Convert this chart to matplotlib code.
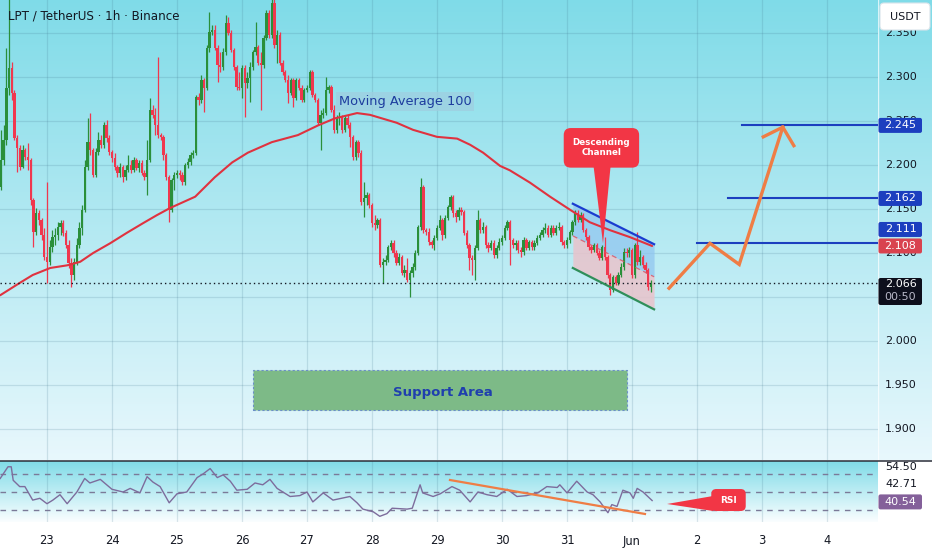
import numpy as np
import matplotlib
matplotlib.use("Agg")
import matplotlib.pyplot as plt
from matplotlib.patches import FancyBboxPatch, Polygon, Rectangle
from matplotlib.lines import Line2D

# %% data (1h candles, x in "day of May", Jun 1 = 32)
t_first = 22 + 7 / 24        # first visible candle, May 22 07:00
first_open = 2.175

closes = [
    2.206, 2.228, 2.287, 2.310, 2.282, 2.231, 2.219, 2.198, 2.217, 2.209,
    2.206, 2.160, 2.124, 2.145, 2.137, 2.120, 2.095, 2.090, 2.107, 2.118,
    2.120, 2.130, 2.134, 2.123, 2.109, 2.089, 2.075, 2.090, 2.109, 2.128,
    2.149, 2.198, 2.226, 2.217, 2.189, 2.215, 2.228, 2.223, 2.245, 2.231,
    2.215, 2.208, 2.198, 2.191, 2.198, 2.186, 2.194, 2.200, 2.194, 2.206,
    2.197, 2.202, 2.191, 2.186, 2.206, 2.262, 2.257, 2.245, 2.234, 2.232,
    2.211, 2.186, 2.149, 2.183, 2.189, 2.191, 2.189, 2.181, 2.200, 2.203,
    2.211, 2.214, 2.277, 2.274, 2.297, 2.287, 2.333, 2.351, 2.353, 2.333,
    2.314, 2.311, 2.328, 2.361, 2.350, 2.331, 2.311, 2.289, 2.287, 2.310,
    2.293, 2.299, 2.311, 2.328, 2.334, 2.316, 2.314, 2.344, 2.373, 2.348,
    2.384, 2.336, 2.348, 2.316, 2.306, 2.297, 2.282, 2.297, 2.276, 2.297,
    2.287, 2.274, 2.285, 2.287, 2.306, 2.280, 2.274, 2.248, 2.257, 2.259,
    2.285, 2.289, 2.262, 2.240, 2.253, 2.255, 2.240, 2.253, 2.245, 2.232,
    2.209, 2.226, 2.214, 2.158, 2.162, 2.166, 2.155, 2.134, 2.132, 2.137,
    2.086, 2.090, 2.092, 2.107, 2.111, 2.100, 2.089, 2.095, 2.077, 2.081,
    2.069, 2.077, 2.084, 2.100, 2.130, 2.175, 2.126, 2.124, 2.112, 2.109,
    2.117, 2.128, 2.137, 2.120, 2.140, 2.152, 2.164, 2.145, 2.141, 2.149,
    2.147, 2.123, 2.109, 2.094, 2.092, 2.106, 2.137, 2.126, 2.130, 2.109,
    2.106, 2.111, 2.098, 2.106, 2.112, 2.117, 2.128, 2.135, 2.115, 2.109,
    2.111, 2.103, 2.101, 2.115, 2.106, 2.112, 2.107, 2.111, 2.117, 2.120,
    2.126, 2.128, 2.120, 2.128, 2.123, 2.128, 2.130, 2.112, 2.109, 2.115,
    2.124, 2.135, 2.145, 2.137, 2.143, 2.126, 2.118, 2.107, 2.103, 2.109,
    2.100, 2.094, 2.107, 2.095, 2.075, 2.058, 2.073, 2.066, 2.075, 2.084,
    2.101, 2.100, 2.103, 2.075, 2.109, 2.090, 2.095, 2.086, 2.081, 2.061,
    2.066,
]
highs = [
    2.240, 2.245, 2.333, 2.390, 2.317, 2.285, 2.234, 2.223, 2.223, 2.219,
    2.225, 2.208, 2.162, 2.151, 2.149, 2.140, 2.128, 2.181, 2.115, 2.126,
    2.128, 2.135, 2.137, 2.137, 2.126, 2.115, 2.094, 2.094, 2.117, 2.135,
    2.155, 2.206, 2.253, 2.259, 2.219, 2.219, 2.237, 2.234, 2.249, 2.251,
    2.234, 2.217, 2.214, 2.200, 2.202, 2.200, 2.200, 2.211, 2.206, 2.209,
    2.208, 2.206, 2.206, 2.194, 2.228, 2.276, 2.268, 2.265, 2.323, 2.236,
    2.234, 2.214, 2.189, 2.185, 2.192, 2.194, 2.194, 2.192, 2.202, 2.208,
    2.215, 2.217, 2.280, 2.282, 2.302, 2.299, 2.336, 2.374, 2.359, 2.359,
    2.336, 2.328, 2.333, 2.370, 2.368, 2.353, 2.333, 2.314, 2.306, 2.314,
    2.314, 2.306, 2.317, 2.331, 2.362, 2.336, 2.328, 2.348, 2.376, 2.376,
    2.390, 2.399, 2.353, 2.351, 2.319, 2.308, 2.302, 2.299, 2.299, 2.299,
    2.299, 2.291, 2.287, 2.291, 2.308, 2.308, 2.282, 2.276, 2.262, 2.265,
    2.300, 2.291, 2.291, 2.268, 2.257, 2.260, 2.257, 2.257, 2.257, 2.249,
    2.234, 2.228, 2.228, 2.217, 2.181, 2.169, 2.168, 2.157, 2.143, 2.140,
    2.140, 2.094, 2.098, 2.109, 2.115, 2.115, 2.103, 2.100, 2.098, 2.086,
    2.094, 2.081, 2.089, 2.103, 2.132, 2.185, 2.177, 2.128, 2.128, 2.115,
    2.120, 2.132, 2.143, 2.140, 2.143, 2.155, 2.166, 2.166, 2.149, 2.152,
    2.152, 2.149, 2.126, 2.111, 2.098, 2.109, 2.149, 2.140, 2.135, 2.132,
    2.112, 2.115, 2.115, 2.109, 2.117, 2.120, 2.132, 2.137, 2.137, 2.117,
    2.115, 2.115, 2.107, 2.118, 2.117, 2.115, 2.115, 2.115, 2.120, 2.124,
    2.130, 2.134, 2.132, 2.132, 2.132, 2.132, 2.135, 2.132, 2.115, 2.118,
    2.126, 2.137, 2.149, 2.149, 2.147, 2.145, 2.128, 2.120, 2.109, 2.111,
    2.111, 2.103, 2.109, 2.118, 2.098, 2.077, 2.075, 2.075, 2.078, 2.089,
    2.106, 2.106, 2.107, 2.106, 2.111, 2.124, 2.103, 2.098, 2.090, 2.083,
    2.069,
]
lows = [
    2.172, 2.200, 2.223, 2.280, 2.274, 2.228, 2.192, 2.194, 2.197, 2.206,
    2.194, 2.155, 2.107, 2.120, 2.132, 2.115, 2.092, 2.066, 2.086, 2.101,
    2.109, 2.115, 2.120, 2.119, 2.106, 2.083, 2.061, 2.069, 2.086, 2.106,
    2.120, 2.147, 2.194, 2.211, 2.186, 2.186, 2.211, 2.219, 2.219, 2.226,
    2.211, 2.203, 2.194, 2.186, 2.186, 2.181, 2.183, 2.192, 2.191, 2.192,
    2.194, 2.192, 2.189, 2.183, 2.166, 2.203, 2.253, 2.234, 2.231, 2.228,
    2.206, 2.183, 2.135, 2.147, 2.172, 2.185, 2.183, 2.177, 2.177, 2.197,
    2.200, 2.208, 2.211, 2.268, 2.270, 2.260, 2.285, 2.328, 2.348, 2.331,
    2.294, 2.306, 2.308, 2.325, 2.348, 2.328, 2.308, 2.285, 2.285, 2.276,
    2.255, 2.287, 2.272, 2.308, 2.325, 2.314, 2.262, 2.310, 2.342, 2.344,
    2.344, 2.333, 2.316, 2.314, 2.302, 2.294, 2.270, 2.280, 2.266, 2.274,
    2.285, 2.272, 2.272, 2.283, 2.285, 2.277, 2.272, 2.245, 2.217, 2.253,
    2.257, 2.282, 2.260, 2.236, 2.236, 2.245, 2.236, 2.237, 2.242, 2.220,
    2.206, 2.206, 2.209, 2.155, 2.141, 2.155, 2.151, 2.130, 2.126, 2.128,
    2.084, 2.066, 2.086, 2.090, 2.103, 2.095, 2.086, 2.086, 2.075, 2.073,
    2.067, 2.050, 2.073, 2.081, 2.098, 2.126, 2.123, 2.120, 2.109, 2.106,
    2.103, 2.115, 2.126, 2.115, 2.117, 2.137, 2.149, 2.141, 2.135, 2.137,
    2.143, 2.120, 2.106, 2.081, 2.075, 2.069, 2.103, 2.123, 2.123, 2.106,
    2.101, 2.103, 2.094, 2.094, 2.103, 2.109, 2.115, 2.126, 2.086, 2.106,
    2.103, 2.100, 2.095, 2.098, 2.103, 2.103, 2.103, 2.103, 2.109, 2.115,
    2.118, 2.123, 2.118, 2.118, 2.120, 2.120, 2.126, 2.109, 2.106, 2.106,
    2.111, 2.120, 2.132, 2.135, 2.135, 2.124, 2.115, 2.103, 2.100, 2.101,
    2.098, 2.092, 2.092, 2.092, 2.072, 2.052, 2.056, 2.064, 2.064, 2.073,
    2.081, 2.095, 2.095, 2.072, 2.072, 2.086, 2.086, 2.083, 2.077, 2.058,
    2.056,
]

# moving average 100 (red line)
ma_t = [22.28, 22.58, 22.78, 23.05, 23.31, 23.51, 23.71, 23.97, 24.23, 24.48,
        24.69, 24.89, 25.28, 25.58, 25.85, 26.09, 26.46, 26.86, 27.17, 27.43,
        27.77, 27.97, 28.38, 28.63, 29.00, 29.31, 29.51, 29.71, 29.97, 30.12,
        30.43, 30.74, 31.05, 31.35, 31.66, 31.97, 32.31]
ma_v = [2.052, 2.066, 2.075, 2.083, 2.086, 2.090, 2.100, 2.111, 2.123, 2.134,
        2.143, 2.151, 2.164, 2.186, 2.203, 2.214, 2.226, 2.234, 2.245, 2.253,
        2.259, 2.257, 2.248, 2.240, 2.232, 2.230, 2.223, 2.214, 2.199, 2.194,
        2.180, 2.164, 2.149, 2.135, 2.126, 2.118, 2.108]

# RSI pane
rsi_t = [22.28, 22.40, 22.45, 22.48, 22.58, 22.66, 22.78, 22.89, 23.00, 23.09,
         23.20, 23.31, 23.46, 23.58, 23.66, 23.82, 24.00, 24.17, 24.28, 24.43,
         24.54, 24.63, 24.74, 24.88, 25.00, 25.15, 25.31, 25.40, 25.51, 25.62,
         25.71, 25.82, 25.92, 26.08, 26.20, 26.32, 26.43, 26.54, 26.74, 26.89,
         27.00, 27.09, 27.25, 27.40, 27.66, 27.77, 27.86, 28.02, 28.12, 28.23,
         28.31, 28.54, 28.62, 28.74, 28.78, 28.94, 29.05, 29.23, 29.35, 29.51,
         29.63, 29.77, 29.92, 30.08, 30.23, 30.38, 30.55, 30.69, 30.85, 30.89,
         31.00, 31.15, 31.31, 31.40, 31.51, 31.63, 31.69, 31.77, 31.86, 31.97,
         32.02, 32.08, 32.17, 32.31]
rsi_v = [65, 78, 78, 63, 56, 56, 41, 43, 37, 41,
         47, 37, 50, 65, 60, 64, 53, 50, 54, 49,
         67, 61, 56, 38, 48, 50, 66, 70, 76, 66,
         69, 62, 52, 53, 60, 58, 64, 54, 45, 46,
         50, 39, 49, 41, 45, 38, 31, 28, 23, 26,
         32, 31, 32, 58, 49, 45, 48, 56, 52, 39,
         50, 47, 45, 53, 45, 46, 49, 56, 55, 58,
         49, 62, 50, 47, 39, 27, 36, 34, 52, 49,
         43, 54, 50, 40.5]
rsi_levels = [30, 50, 70]
rsi_last = 40.54
rsi_extra = ["54.50", "42.71"]

day_ticks = [23, 24, 25, 26, 27, 28, 29, 30, 31, 32, 33, 34, 35]
day_labels = ["23", "24", "25", "26", "27", "28", "29", "30", "31", "Jun", "2", "3", "4"]
price_ticks = [1.90, 1.95, 2.00, 2.05, 2.10, 2.15, 2.20, 2.25, 2.30, 2.35]

targets = [2.245, 2.162, 2.111]
target_start = [33.69, 33.48, 33.00]
ma_last = 2.108
last_price = 2.066
countdown = "00:50"

# drawings
path_t = [32.57, 33.20, 33.65, 34.32]
path_p = [2.060, 2.111, 2.087, 2.243]
wing_t = [34.02, 34.32, 34.49]
wing_p = [2.232, 2.243, 2.222]
chan_t = [31.09, 32.34]
chan_hi = [2.156, 2.110]
chan_lo = [2.083, 2.036]
support = (26.17, 31.92, 1.922, 1.967)
rsi_trend_t = [29.2, 32.2]
rsi_trend_v = [63.3, 25.6]

assert len(closes) == len(highs) == len(lows)
assert len(ma_t) == len(ma_v) and len(rsi_t) == len(rsi_v)

# %% layout (pixels of the 932x550 picture)
W, H = 932, 550
X_SCALE = 878
MAIN_BOT = 460
RSI_TOP, RSI_BOT = 461, 522
XLIM = (22.277, 35.785)
YLIM = (1.8648, 2.3875)
RLIM = (16.7, 84.4)

TOP_C = (0.50, 0.86, 0.91)
BOT_C = (0.91, 0.97, 0.99)
TXT = "#131722"
UP, DOWN = "#2a8f3a", "#f0374e"
BLUE = "#1c3fbf"
ORANGE = "#ef7d45"

fig = plt.figure(figsize=(W / 100, H / 100), dpi=100)
fig.patch.set_facecolor("white")


def frac_box(x0, y0, x1, y1):
    return [x0 / W, 1 - y1 / H, (x1 - x0) / W, (y1 - y0) / H]


ax = fig.add_axes(frac_box(0, 0, X_SCALE, MAIN_BOT))
ax_ps = fig.add_axes(frac_box(X_SCALE, 0, W, MAIN_BOT))
ax_rsi = fig.add_axes(frac_box(0, RSI_TOP, X_SCALE, RSI_BOT))
ax_rs = fig.add_axes(frac_box(X_SCALE, RSI_TOP, W, RSI_BOT))


def gradient(axis, top, bottom, extent):
    c = np.linspace(0, 1, 256)[:, None, None]
    img = np.array(top)[None, None, :] * (1 - c) + np.array(bottom)[None, None, :] * c
    axis.imshow(img, extent=extent, aspect="auto", origin="upper",
                zorder=0, interpolation="bilinear")


def clean(axis):
    for s in axis.spines.values():
        s.set_visible(False)
    axis.tick_params(length=0, labelleft=False, labelbottom=False)


# %% main price pane
gradient(ax, TOP_C, BOT_C, [XLIM[0], XLIM[1], YLIM[0], YLIM[1]])
ax.set_xlim(*XLIM)
ax.set_ylim(*YLIM)
ax.set_xticks(day_ticks)
ax.set_yticks(price_ticks)
ax.set_axisbelow(True)
ax.grid(color=(0.25, 0.45, 0.55), alpha=0.18, lw=0.9)
clean(ax)

c = np.array(closes)
o = np.r_[first_open, c[:-1]]
t = t_first + np.arange(len(c)) / 24
cols = np.where(c >= o, UP, DOWN)
ax.vlines(t, lows, highs, colors=cols, lw=0.9, zorder=3)
ax.bar(t, np.maximum(np.abs(c - o), 0.0012), bottom=np.minimum(c, o),
       width=0.86 / 24, color=cols, lw=0, zorder=3)

ax.plot(ma_t, ma_v, color="#e0323f", lw=1.5, zorder=4, solid_capstyle="round")
ax.axhline(last_price, color=TXT, lw=1, ls=(0, (1, 2.2)), zorder=4)

# px -> data helpers for rounded shapes
xpp = (XLIM[1] - XLIM[0]) / X_SCALE
ypp = (YLIM[1] - YLIM[0]) / MAIN_BOT
asp = ypp / xpp

# support area
sx0, sx1, sy0, sy1 = support
ax.add_patch(Rectangle((sx0, sy0), sx1 - sx0, sy1 - sy0, fc="#7dba87",
                       ec="#6b8fc8", lw=0.8, ls=(0, (2, 2)), zorder=5))
ax.text((sx0 + sx1) / 2 + 0.05, (sy0 + sy1) / 2 - 0.003, "Support Area", color="#1f3fae",
        fontsize=9.5, fontweight="bold", ha="center", va="center", zorder=6)

# moving average label
ax.text(28.51, 2.272, "Moving Average 100", color="#1d3c9e", fontsize=9.3,
        ha="center", va="center", zorder=6,
        bbox=dict(boxstyle="square,pad=0.22", fc="#9fcfe0", ec="none", alpha=0.75))

# descending channel
mid = [(a + b) / 2 for a, b in zip(chan_hi, chan_lo)]
ax.fill_between(chan_t, chan_hi, mid, color="#8fc4f0", alpha=0.7, lw=0, zorder=2)
ax.fill_between(chan_t, mid, chan_lo, color="#e9c3cb", alpha=0.85, lw=0, zorder=2)
ax.plot(chan_t, mid, color="#e05060", lw=0.9, ls=(0, (4, 3)), alpha=0.8, zorder=4)
ax.plot(chan_t, chan_hi, color="#1a3cd0", lw=1.6, zorder=5)
ax.plot(chan_t, chan_lo, color="#2f8f5a", lw=1.6, zorder=5)

# callout for channel
bx0, bx1, by0, by1 = 30.95, 32.11, 2.197, 2.242
ax.add_patch(FancyBboxPatch((bx0, by0), bx1 - bx0, by1 - by0,
                            boxstyle="round,pad=0,rounding_size=%f" % (7 * xpp),
                            mutation_aspect=asp, fc="#f23645", ec="none", zorder=7))
ax.add_patch(Polygon([(31.41, by0 + 0.001), (31.67, by0 + 0.001), (31.554, 2.111)],
                     closed=True, fc="#f23645", ec="none", zorder=7))
ax.text((bx0 + bx1) / 2, (by0 + by1) / 2, "Descending\nChannel", color="white",
        fontsize=6.3, fontweight="bold", ha="center", va="center",
        linespacing=1.15, zorder=8)

# targets and projected path
for lvl, st in zip(targets, target_start):
    ax.plot([st, XLIM[1]], [lvl, lvl], color=BLUE, lw=1.5, zorder=5)
ax.plot(path_t, path_p, color=ORANGE, lw=2.4, zorder=6, solid_joinstyle="miter")
ax.plot(wing_t, wing_p, color=ORANGE, lw=2.4, zorder=6, solid_joinstyle="miter")

ax.text(8 * xpp + XLIM[0], YLIM[1] - 16 * ypp, "LPT / TetherUS \u00b7 1h \u00b7 Binance",
        color=TXT, fontsize=8.6, ha="left", va="center", zorder=9)

# %% price scale
gradient(ax_ps, TOP_C, BOT_C, [0, 54, YLIM[0], YLIM[1]])
ax_ps.set_xlim(0, 54)
ax_ps.set_ylim(*YLIM)
clean(ax_ps)
ax_ps.axvline(0.3, color="white", lw=1, alpha=0.7)
for p in price_ticks:
    ax_ps.text(23, p, "%.3f" % p, color=TXT, fontsize=8, ha="center", va="center", zorder=2)


def tag(y, text, fc, h=15, y_box=None, tc="white"):
    yc = y if y_box is None else y_box
    ax_ps.add_patch(FancyBboxPatch((0.5, yc - h * ypp / 2), 43.5, h * ypp,
                                   boxstyle="round,pad=0,rounding_size=2",
                                   mutation_aspect=ypp, fc=fc, ec="none", zorder=5))
    ax_ps.text(22.5, yc, text, color=tc, fontsize=8, ha="center", va="center", zorder=6)


tag(targets[0], "%.3f" % targets[0], BLUE)
tag(targets[1], "%.3f" % targets[1], BLUE)
tag(targets[2], "%.3f" % targets[2], BLUE, y_box=ma_last + 16.5 * ypp)
tag(ma_last, "%.3f" % ma_last, "#d9434f")
# last price with countdown
ax_ps.add_patch(FancyBboxPatch((0.5, YLIM[1] - 305 * ypp), 43.5, 27 * ypp,
                               boxstyle="round,pad=0,rounding_size=2",
                               mutation_aspect=ypp, fc="#0d0f1c", ec="none", zorder=5))
ax_ps.text(22.5, YLIM[1] - 284 * ypp, "%.3f" % last_price, color="white", fontsize=8,
           ha="center", va="center", zorder=6)
ax_ps.text(22.5, YLIM[1] - 297.5 * ypp, countdown, color="#b8b8c8", fontsize=8,
           ha="center", va="center", zorder=6)
# currency box
ax_ps.add_patch(FancyBboxPatch((2, YLIM[1] - 30 * ypp), 50, 27 * ypp,
                               boxstyle="round,pad=0,rounding_size=4",
                               mutation_aspect=ypp, fc="white", ec="#d8e4ea",
                               lw=0.8, zorder=7))
ax_ps.text(27, YLIM[1] - 16.5 * ypp, "USDT", color=TXT, fontsize=8, ha="center",
           va="center", zorder=8)

# %% RSI pane
gradient(ax_rsi, TOP_C, (0.98, 0.995, 1.0), [XLIM[0], XLIM[1], RLIM[0], RLIM[1]])
ax_rsi.set_xlim(*XLIM)
ax_rsi.set_ylim(*RLIM)
ax_rsi.set_xticks(day_ticks)
ax_rsi.set_xticklabels(day_labels)
ax_rsi.set_yticks([])
ax_rsi.set_axisbelow(True)
ax_rsi.grid(axis="x", color=(0.25, 0.45, 0.55), alpha=0.18, lw=0.9)
for s in ax_rsi.spines.values():
    s.set_visible(False)
ax_rsi.tick_params(axis="x", length=0, pad=9, labelsize=8.3, labelcolor=TXT)
for lv in rsi_levels:
    ax_rsi.axhline(lv, color="#7b7a98", lw=1, ls=(0, (4, 4)), zorder=2)
ax_rsi.plot(rsi_t, rsi_v, color="#7d6c9c", lw=1, zorder=3)
ax_rsi.plot(rsi_trend_t, rsi_trend_v, color=ORANGE, lw=1.6, zorder=4)

rypp = (RLIM[1] - RLIM[0]) / (RSI_BOT - RSI_TOP)
ax_rsi.add_patch(FancyBboxPatch((33.22, 28.9), 0.53, 24.4,
                                boxstyle="round,pad=0,rounding_size=%f" % (5 * xpp),
                                mutation_aspect=rypp / xpp, fc="#f23645", ec="none", zorder=6))
ax_rsi.add_patch(Polygon([(32.54, 36.7), (33.25, 45.6), (33.25, 28.9)], closed=True,
                         fc="#f23645", ec="none", zorder=6))
ax_rsi.text(33.49, 41.0, "RSI", color="white", fontsize=6.5, fontweight="bold",
            ha="center", va="center", zorder=7)

ax_rs.set_facecolor("white")
ax_rs.set_xlim(0, 54)
ax_rs.set_ylim(*RLIM)
clean(ax_rs)
ax_rs.text(23, 77.8, rsi_extra[0], color=TXT, fontsize=8, ha="center", va="center")
ax_rs.text(23, 58.9, rsi_extra[1], color=TXT, fontsize=8, ha="center", va="center")
ax_rs.add_patch(FancyBboxPatch((0.5, 39 - 7.5 * rypp), 43.5, 15 * rypp,
                               boxstyle="round,pad=0,rounding_size=2",
                               mutation_aspect=rypp, fc="#84609a", ec="none", zorder=5))
ax_rs.text(22.5, 39, "%.2f" % rsi_last, color="white", fontsize=8, ha="center",
           va="center", zorder=6)

# pane separator
fig.add_artist(Line2D([0, 1], [1 - 460.5 / H] * 2, color="#2a2e39", lw=1.1))

fig.savefig("out.png", dpi=100)
